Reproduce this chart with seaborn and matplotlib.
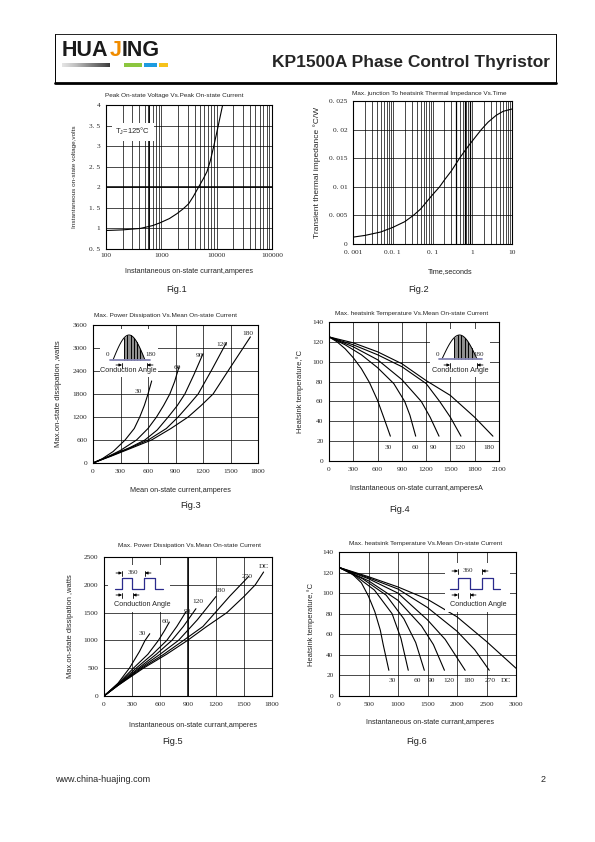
import numpy as np
import matplotlib
matplotlib.use("Agg")
import matplotlib.pyplot as plt
from matplotlib.patches import Rectangle
import seaborn as sns

# ---------------- data ----------------
# Fig.1  peak on-state voltage vs peak on-state current (Tj=125C)
f1_current = [100, 200, 417, 700, 959, 1400, 1919, 2500, 3120, 3800, 4730, 5700, 6680, 7700, 8830, 10500, 12820]
f1_voltage = [0.95, 0.965, 1.0, 1.07, 1.14, 1.24, 1.36, 1.48, 1.6, 1.78, 2.01, 2.2, 2.38, 2.65, 2.99, 3.45, 4.0]

# Fig.2  transient thermal impedance vs time
f2_time = [0.001, 0.002, 0.005, 0.01, 0.02, 0.033, 0.05, 0.1, 0.151, 0.2, 0.3, 0.48, 0.7, 1.0, 1.69, 2.5, 4, 6, 10]
f2_zth = [0.0012, 0.0015, 0.0021, 0.0029, 0.0039, 0.005, 0.0061, 0.0086, 0.01, 0.0112, 0.0128, 0.015, 0.0166,
          0.018, 0.02, 0.0213, 0.0225, 0.0232, 0.0236]

# Fig.3  power dissipation vs mean current, sine wave
f3_i30 = [0, 100, 220, 350, 450, 510, 560, 600, 640]
f3_p30 = [0, 110, 300, 600, 900, 1200, 1500, 1800, 2140]
f3_i60 = [0, 150, 300, 475, 600, 693, 770, 838, 890, 940]
f3_p60 = [0, 150, 330, 600, 900, 1200, 1500, 1800, 2120, 2520]
f3_i90 = [0, 200, 400, 566, 700, 820, 920, 1002, 1100, 1200]
f3_p90 = [0, 200, 400, 600, 860, 1200, 1500, 1800, 2300, 2850]
f3_i120 = [0, 200, 400, 602, 800, 929, 1040, 1147, 1300, 1455]
f3_p120 = [0, 190, 390, 600, 900, 1200, 1500, 1800, 2450, 3140]
f3_i180 = [0, 200, 400, 639, 850, 1038, 1180, 1310, 1500, 1717]
f3_p180 = [0, 180, 370, 600, 900, 1200, 1500, 1800, 2500, 3290]
f3_names = ["30", "60", "90", "120", "180"]

# Fig.4  heatsink temperature vs current, sine wave
f4_i30 = [0, 100, 200, 300, 400, 500, 600, 680, 758]
f4_t30 = [125, 120, 113, 104, 93, 79, 61, 43, 25]
f4_i60 = [0, 200, 400, 600, 800, 935, 1000, 1071]
f4_t60 = [125, 117, 107, 94, 78, 60, 46, 25]
f4_i90 = [0, 300, 600, 900, 1140, 1250, 1359]
f4_t90 = [125, 115, 102, 82, 60, 44, 25]
f4_i120 = [0, 300, 600, 900, 1200, 1367, 1500, 1630]
f4_t120 = [125, 117, 107, 95, 78, 60, 44, 25]
f4_i180 = [0, 300, 600, 900, 1200, 1500, 1800, 2025]
f4_t180 = [125, 119, 110, 98, 81, 66, 44, 25]
f4_names = ["30", "60", "90", "120", "180"]

# Fig.5  power dissipation vs current, square wave
f5_i30 = [0, 150, 272, 380, 440, 490]
f5_p30 = [0, 230, 500, 800, 1000, 1120]
f5_i60 = [0, 150, 315, 470, 583, 650, 700]
f5_p60 = [0, 220, 500, 750, 1000, 1180, 1330]
f5_i90 = [0, 150, 344, 520, 673, 780, 880]
f5_p90 = [0, 210, 500, 750, 1000, 1250, 1520]
f5_i120 = [0, 150, 369, 560, 727, 850, 985]
f5_p120 = [0, 200, 500, 750, 1000, 1250, 1570]
f5_i180 = [0, 150, 387, 600, 798, 1000, 1200]
f5_p180 = [0, 200, 500, 750, 1000, 1370, 1790]
f5_i270 = [0, 150, 404, 640, 852, 1060, 1192, 1350, 1550]
f5_p270 = [0, 190, 500, 750, 1000, 1250, 1500, 1800, 2150]
f5_idc = [0, 150, 422, 670, 895, 1100, 1317, 1500, 1621, 1710]
f5_pdc = [0, 190, 500, 750, 1000, 1250, 1500, 1790, 2000, 2230]
f5_names = ["30", "60", "90", "120", "180", "270", "DC"]

# Fig.6  heatsink temperature vs current, square wave
f6_i30 = [0, 200, 380, 500, 607, 700, 749, 845]
f6_t30 = [125, 120, 110, 97, 82, 64, 50, 25]
f6_i60 = [0, 300, 600, 900, 1050, 1174]
f6_t60 = [125, 116, 103, 80, 56, 25]
f6_i90 = [0, 400, 800, 1100, 1300, 1446]
f6_t90 = [125, 114, 98, 75, 52, 25]
f6_i120 = [0, 500, 1000, 1400, 1600, 1787]
f6_t120 = [125, 112, 93, 68, 50, 25]
f6_i180 = [0, 500, 1000, 1500, 1800, 2138]
f6_t180 = [125, 114, 100, 74, 55, 25]
f6_i270 = [0, 500, 1000, 1500, 2000, 2300, 2547]
f6_t270 = [125, 115, 104, 86, 63, 45, 25]
f6_idc = [0, 500, 1000, 1500, 2000, 2500, 3000]
f6_tdc = [125, 116, 106, 94, 77, 53, 27]
f6_names = ["30", "60", "90", "120", "180", "270", "DC"]

# ---------------- style ----------------
sns.set_style("white")
plt.rcParams['font.family'] = ['Liberation Sans', 'DejaVu Sans']
SERIF = ['Liberation Serif', 'DejaVu Serif']
TICK_FS = 5.3
LAB_FS = 5.2

W, H = 595, 842
fig = plt.figure(figsize=(W / 100, H / 100), dpi=100)


def px_axes(x0, y0, x1, y1):
    return fig.add_axes([x0 / W, 1 - y1 / H, (x1 - x0) / W, (y1 - y0) / H])


def log_minor(lo_dec, hi_dec):
    return [k * 10.0 ** d for d in range(lo_dec, hi_dec) for k in range(2, 10)]


def style(ax, xt, xl, yt, yl, xpad=4, ypad=4):
    ax.set_xticks(xt)
    ax.set_xticklabels(xl, fontfamily=SERIF, fontsize=TICK_FS)
    ax.set_yticks(yt)
    ax.set_yticklabels(yl, fontfamily=SERIF, fontsize=TICK_FS)
    ax.tick_params(axis='x', which='both', length=0, pad=xpad)
    ax.tick_params(axis='y', which='both', length=0, pad=ypad)
    ax.grid(True, which='both', color='black', lw=0.5)
    for s in ax.spines.values():
        s.set_color('black')
        s.set_linewidth(0.8)


def curves(ax, pairs):
    for xs, ys in pairs:
        sns.lineplot(x=xs, y=ys, ax=ax, color='black', linewidth=0.8)


def labels(ax, xlabel, ylabel, xc, xy, yx, fs_y=LAB_FS):
    ax.set_xlabel(xlabel, fontsize=LAB_FS)
    ax.set_ylabel(ylabel, fontsize=fs_y)
    ax.xaxis.set_label_coords(xc, xy)
    ax.yaxis.set_label_coords(yx, 0.5)


# Fig.1
ax1 = px_axes(106, 105, 272, 249)
sns.lineplot(x=f1_current, y=f1_voltage, ax=ax1, color='black', linewidth=0.8)
ax1.set_xscale('log')
ax1.set_xlim(100, 100000)
ax1.set_ylim(0.5, 4)
style(ax1, [100, 1000, 10000, 100000], ["100", "1000", "10000", "100000"],
      [0.5, 1, 1.5, 2, 2.5, 3, 3.5, 4], ["0. 5", "1", "1. 5", "2", "2. 5", "3", "3. 5", "4"], xpad=3)
ax1.set_xticks(log_minor(2, 5), minor=True)
ax1.set_xticklabels([], minor=True)
ax1.grid(True, which='minor', axis='x', color='black', lw=0.5)
ax1.axhline(2, color='black', lw=1.1)
ax1.axvline(600, color='black', lw=1.1)
ax1.text(0.055, 0.815, r"$\mathregular{T_J}$=125°C", transform=ax1.transAxes, fontsize=5.5,
         va='center', bbox=dict(facecolor='white', edgecolor='none', pad=2.5))
labels(ax1, "Instantaneous on-state currant,amperes", "Instantaneous on-state voltage,volts",
       0.5, -0.135, -0.175, fs_y=4.6)

# Fig.2
ax2 = px_axes(353, 101, 512, 244)
sns.lineplot(x=f2_time, y=f2_zth, ax=ax2, color='black', linewidth=0.8)
ax2.set_xscale('log')
ax2.set_xlim(0.001, 10)
ax2.set_ylim(0, 0.025)
style(ax2, [0.001, 0.01, 0.1, 1, 10], ["0. 001", "0.0. 1", "0. 1", "1", "10"],
      [0, 0.005, 0.01, 0.015, 0.02, 0.025], ["0", "0. 005", "0. 01", "0. 015", "0. 02", "0. 025"])
ax2.set_xticks(log_minor(-3, 1), minor=True)
ax2.set_xticklabels([], minor=True)
ax2.grid(True, which='minor', axis='x', color='black', lw=0.5)
for xv in (0.4, 0.65, 0.9):
    ax2.axvline(xv, color='black', lw=0.9)
labels(ax2, "Time,seconds", "Transient thermal impedance °C/W", 0.61, -0.168, -0.2, fs_y=6.0)

# Fig.3
ax3 = px_axes(93, 325, 258, 463)
curves(ax3, [(f3_i30, f3_p30), (f3_i60, f3_p60), (f3_i90, f3_p90), (f3_i120, f3_p120), (f3_i180, f3_p180)])
ax3.set_xlim(0, 1800)
ax3.set_ylim(0, 3600)
style(ax3, range(0, 1801, 300), [str(v) for v in range(0, 1801, 300)],
      range(0, 3601, 600), [str(v) for v in range(0, 3601, 600)])
for name, (lx, ly) in zip(f3_names, [(494, 1874), (922, 2502), (1165, 2816), (1401, 3095), (1684, 3373)]):
    ax3.text(lx, ly, name, fontsize=5.3, fontfamily=SERIF, ha='center', va='center')
labels(ax3, "Mean on-state current,amperes", "Max.on-state dissipation ,watts", 0.527, -0.174, -0.19,
       fs_y=5.6)

# Fig.4
ax4 = px_axes(329, 322, 499, 461)
curves(ax4, [(f4_i30, f4_t30), (f4_i60, f4_t60), (f4_i90, f4_t90), (f4_i120, f4_t120), (f4_i180, f4_t180)])
ax4.set_xlim(0, 2100)
ax4.set_ylim(0, 140)
style(ax4, range(0, 2101, 300), [str(v) for v in range(0, 2101, 300)],
      range(0, 141, 20), [str(v) for v in range(0, 141, 20)])
for name, lx in zip(f4_names, [733, 1062, 1293, 1622, 1972]):
    ax4.text(lx, 13.5, name, fontsize=5.3, fontfamily=SERIF, ha='center', va='center')
labels(ax4, "Instantaneous on-state currant,amperesA", "Heatsink temperature,°C", 0.512, -0.173, -0.15,
       fs_y=5.4)

# Fig.5
ax5 = px_axes(104, 557, 272, 696)
curves(ax5, [(f5_i30, f5_p30), (f5_i60, f5_p60), (f5_i90, f5_p90), (f5_i120, f5_p120),
             (f5_i180, f5_p180), (f5_i270, f5_p270), (f5_idc, f5_pdc)])
ax5.set_xlim(0, 1800)
ax5.set_ylim(0, 2500)
style(ax5, range(0, 1801, 300), [str(v) for v in range(0, 1801, 300)],
      range(0, 2501, 500), [str(v) for v in range(0, 2501, 500)])
ax5.axvline(900, color='black', lw=1.1)
for name, (lx, ly) in zip(f5_names, [(415, 1121), (655, 1331), (895, 1511), (1006, 1703),
                                     (1246, 1900), (1532, 2158), (1718, 2338)]):
    ax5.text(lx, ly, name, fontsize=5.3, fontfamily=SERIF, ha='center', va='center')
labels(ax5, "Instantaneous on-state currant,amperes", "Max.on-state dissipation ,watts", 0.53, -0.187, -0.18,
       fs_y=5.4)

# Fig.6
ax6 = px_axes(339, 552, 516, 696)
curves(ax6, [(f6_i30, f6_t30), (f6_i60, f6_t60), (f6_i90, f6_t90), (f6_i120, f6_t120),
             (f6_i180, f6_t180), (f6_i270, f6_t270), (f6_idc, f6_tdc)])
ax6.set_xlim(0, 3000)
ax6.set_ylim(0, 140)
style(ax6, range(0, 3001, 500), [str(v) for v in range(0, 3001, 500)],
      range(0, 141, 20), [str(v) for v in range(0, 141, 20)])
for name, lx in zip(f6_names, [902, 1327, 1571, 1854, 2195, 2563, 2830]):
    ax6.text(lx, 15, name, fontsize=5.3, fontfamily=SERIF, ha='center', va='center')
labels(ax6, "Instantaneous on-state currant,amperes", "Heatsink temperature,°C", 0.514, -0.16, -0.137,
       fs_y=5.4)

# ---------------- page decorations in pixel coordinates ----------------
ov = fig.add_axes([0, 0, 1, 1], zorder=5)
ov.axis('off')

# header frame
ov.plot([55, 556], [34, 34], color='black', lw=0.6)
ov.plot([55, 55], [34, 83], color='black', lw=0.7)
ov.plot([556, 556], [34, 83], color='black', lw=0.7)
ov.plot([55, 556], [83, 83], color='black', lw=2.0)

# logo
LOGO_FS = 15.5
ov.text(62, 50, "HUA", fontsize=LOGO_FS, fontweight='bold', va='center', color='#1a1a1a')
ov.text(110, 51, "J", fontsize=LOGO_FS, fontweight='bold', va='center', color='#f08c00')
ov.text(122, 50, "ING", fontsize=LOGO_FS, fontweight='bold', va='center', color='#1a1a1a')
ov.imshow(np.linspace(0, 1, 60)[None, :], cmap='Greys', vmin=-0.3, vmax=1.3, aspect='auto',
          extent=[62, 110, 67, 63])
ov.add_patch(Rectangle((124, 63), 18, 4, facecolor='#8cc63f', edgecolor='none'))
ov.add_patch(Rectangle((144, 63), 13, 4, facecolor='#1e9be0', edgecolor='none'))
ov.add_patch(Rectangle((159, 63), 9, 4, facecolor='#f6c21a', edgecolor='none'))

ov.text(550, 63, "KP1500A Phase Control Thyristor", fontsize=12.5, fontweight='bold',
        ha='right', va='center')

# chart titles
TITLE_FS = 4.6
for (tx, ty), txt in zip([(174, 95), (429, 93), (165, 315), (412, 314), (189, 545), (426, 544)],
                         ["Peak On-state Voltage Vs.Peak On-state Current",
                          "Max. junction To heatsink Thermal Impedance Vs.Time",
                          "Max. Power Dissipation Vs.Mean On-state Current",
                          "Max. heatsink Temperature Vs.Mean On-state Current",
                          "Max. Power Dissipation Vs.Mean On-state Current",
                          "Max. heatsink Temperature Vs.Mean On-state Current"]):
    ov.text(tx, ty, txt, fontsize=TITLE_FS, ha='center', va='center')

# figure captions
for (fx, fy), txt in zip([(177, 290), (419, 290), (191, 505), (400, 509), (173, 742), (417, 742)],
                         ["Fig.1", "Fig.2", "Fig.3", "Fig.4", "Fig.5", "Fig.6"]):
    ov.text(fx, fy, txt, fontsize=6.7, ha='center', va='center', color='#222222')

ov.text(55, 780, "www.china-huajing.com", fontsize=6.5, va='center')
ov.text(546, 780, "2", fontsize=6.5, va='center', ha='right')


def arrow_bar(xb, y, direction, length=6):
    ov.plot([xb, xb], [y - 2.5, y + 2.5], color='black', lw=0.6)
    ov.annotate('', xy=(xb, y), xytext=(xb - direction * length, y),
                arrowprops=dict(arrowstyle='-|>', color='black', lw=0.6, mutation_scale=4,
                                shrinkA=0, shrinkB=0))


def sine_icon(box, x0, x1, ybase, ypeak, lab0, lab180, bars, ytext, xtext):
    ov.add_patch(Rectangle((box[0], box[1]), box[2] - box[0], box[3] - box[1],
                           facecolor='white', edgecolor='none'))
    t = np.linspace(0, 1, 80)
    xs = x0 + (x1 - x0) * t
    ys = ybase - (ybase - ypeak) * np.sin(np.pi * t)
    sel = (t >= 0.35) & (t <= 0.95)
    ov.fill_between(xs[sel], ys[sel], ybase, color='#8f8f8f', lw=0)
    for tv in (0.35, 0.45, 0.55, 0.65, 0.75, 0.85):
        ov.plot([x0 + (x1 - x0) * tv] * 2, [ybase, ybase - (ybase - ypeak) * np.sin(np.pi * tv)],
                color='black', lw=0.7)
    ov.plot(xs, ys, color='black', lw=0.7)
    ov.plot([x0 - 3, x1 + 5], [ybase, ybase], color='#8585b5', lw=1.3)
    ov.text(lab0[0], lab0[1], "0", fontsize=5, fontfamily=SERIF, ha='center', va='center')
    ov.text(lab180[0], lab180[1], "180", fontsize=5, fontfamily=SERIF, ha='center', va='center')
    arrow_bar(bars[0], ytext - 6, 1)
    arrow_bar(bars[1], ytext - 6, -1)
    ov.text(xtext, ytext, "Conduction Angle", fontsize=5.2, ha='center', va='center')


def square_icon(box, xs, ylow, yhigh, top_bars, x360, bot_bars, ytop, ybot, xtext, ytext):
    ov.add_patch(Rectangle((box[0], box[1]), box[2] - box[0], box[3] - box[1],
                           facecolor='white', edgecolor='none'))
    wx = [xs[0], xs[1], xs[1], xs[2], xs[2], xs[3], xs[3], xs[4], xs[4], xs[5]]
    wy = [ylow, ylow, yhigh, yhigh, ylow, ylow, yhigh, yhigh, ylow, ylow]
    ov.plot(wx, wy, color='#2b2b8c', lw=0.9)
    arrow_bar(top_bars[0], ytop, 1)
    arrow_bar(top_bars[1], ytop, -1)
    ov.text(x360, ytop, "360", fontsize=5, fontfamily=SERIF, ha='center', va='center')
    arrow_bar(bot_bars[0], ybot, 1)
    arrow_bar(bot_bars[1], ybot, -1)
    ov.text(xtext, ytext, "Conduction Angle", fontsize=5.2, ha='center', va='center')


sine_icon((100, 329, 158, 377), 113, 145, 360, 335, (108, 354), (151, 354), (122, 147), 371, 128)
sine_icon((430, 329, 490, 377), 442, 477, 359, 335, (437, 354), (479, 354), (450, 477), 371, 460)
square_icon((108, 565, 170, 612), [115, 121.7, 132.3, 144.3, 155, 163], 589, 578, (122, 145), 133,
            (122, 133), 573, 595, 142, 605)
square_icon((445, 563, 510, 612), [450, 458.3, 470, 481.7, 493.3, 500], 589, 578, (458, 482), 468,
            (458, 470), 571, 595, 478, 605)

ov.set_xlim(0, W)
ov.set_ylim(H, 0)

fig.savefig("out.png", dpi=100)
